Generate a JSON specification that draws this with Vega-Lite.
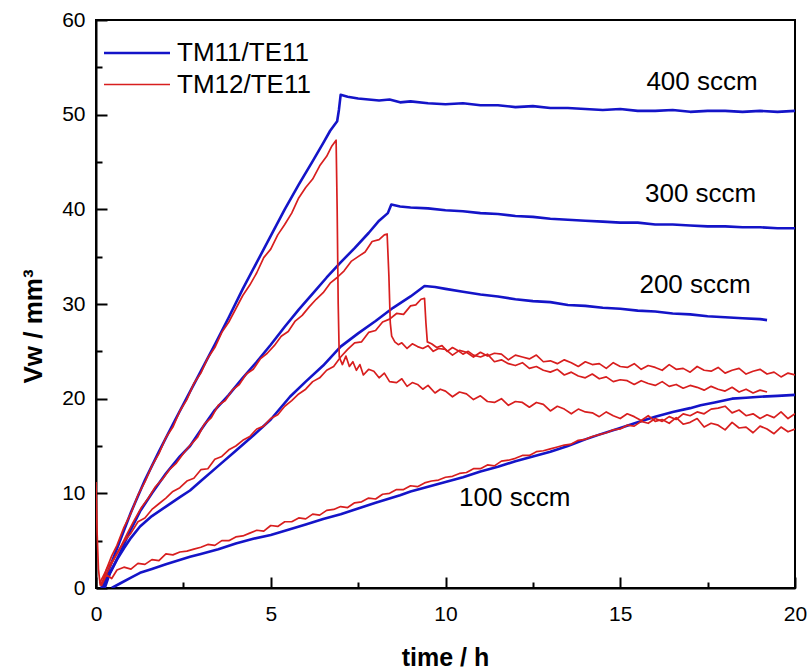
{
"$schema": "https://vega.github.io/schema/vega-lite/v6.json",
"width": 699, "height": 568,
"autosize": {"type": "none"},
"padding": {"left": 96, "top": 20, "right": 16, "bottom": 84},
"background": "white",
"config": {
  "font": "Liberation Sans",
  "view": {"stroke": "black", "strokeWidth": 2},
  "axis": {"domainColor": "black", "domainWidth": 2, "tickColor": "black", "tickWidth": 2, "labelColor": "black", "labelFontSize": 21, "labelFont": "Liberation Sans", "titleColor": "black", "titleFont": "Liberation Sans", "grid": false, "labelOverlap": false, "labelFlush": false}
},
"datasets": {
  "labels": [
    {"t": 17.34, "v": 53.46, "txt": "400 sccm"},
    {"t": 17.30, "v": 41.6, "txt": "300 sccm"},
    {"t": 17.14, "v": 32.0, "txt": "200 sccm"},
    {"t": 11.98, "v": 9.47, "txt": "100 sccm"}
  ],
  "curves": [
{"m":"TM11/TE11","r":400,"t":0.15,"v":0},{"m":"TM11/TE11","r":400,"t":0.3,"v":1.3},{"m":"TM11/TE11","r":400,"t":0.5,"v":3.2},{"m":"TM11/TE11","r":400,"t":0.75,"v":5.6},{"m":"TM11/TE11","r":400,"t":1,"v":8},{"m":"TM11/TE11","r":400,"t":1.4,"v":11.4},{"m":"TM11/TE11","r":400,"t":1.8,"v":14.4},{"m":"TM11/TE11","r":400,"t":2.2,"v":17.3},{"m":"TM11/TE11","r":400,"t":2.6,"v":20.1},{"m":"TM11/TE11","r":400,"t":3,"v":22.9},{"m":"TM11/TE11","r":400,"t":3.4,"v":25.7},{"m":"TM11/TE11","r":400,"t":3.8,"v":28.6},{"m":"TM11/TE11","r":400,"t":4.2,"v":31.6},{"m":"TM11/TE11","r":400,"t":4.6,"v":34.4},{"m":"TM11/TE11","r":400,"t":5,"v":37.2},{"m":"TM11/TE11","r":400,"t":5.4,"v":40},{"m":"TM11/TE11","r":400,"t":5.8,"v":42.6},{"m":"TM11/TE11","r":400,"t":6.2,"v":45.1},{"m":"TM11/TE11","r":400,"t":6.5,"v":47},{"m":"TM11/TE11","r":400,"t":6.7,"v":48.3},{"m":"TM11/TE11","r":400,"t":6.9,"v":49.3},{"m":"TM11/TE11","r":400,"t":6.95,"v":50.5},{"m":"TM11/TE11","r":400,"t":7,"v":52.1},{"m":"TM11/TE11","r":400,"t":7.2,"v":51.9},{"m":"TM11/TE11","r":400,"t":7.5,"v":51.7},{"m":"TM11/TE11","r":400,"t":7.8,"v":51.6},{"m":"TM11/TE11","r":400,"t":8.1,"v":51.5},{"m":"TM11/TE11","r":400,"t":8.4,"v":51.6},{"m":"TM11/TE11","r":400,"t":8.7,"v":51.3},{"m":"TM11/TE11","r":400,"t":9,"v":51.4},{"m":"TM11/TE11","r":400,"t":9.5,"v":51.2},{"m":"TM11/TE11","r":400,"t":10,"v":51.1},{"m":"TM11/TE11","r":400,"t":10.5,"v":51.2},{"m":"TM11/TE11","r":400,"t":11,"v":51},{"m":"TM11/TE11","r":400,"t":11.5,"v":51},{"m":"TM11/TE11","r":400,"t":12,"v":50.8},{"m":"TM11/TE11","r":400,"t":12.5,"v":50.9},{"m":"TM11/TE11","r":400,"t":13,"v":50.7},{"m":"TM11/TE11","r":400,"t":13.5,"v":50.7},{"m":"TM11/TE11","r":400,"t":14,"v":50.6},{"m":"TM11/TE11","r":400,"t":14.5,"v":50.5},{"m":"TM11/TE11","r":400,"t":15,"v":50.6},{"m":"TM11/TE11","r":400,"t":15.5,"v":50.4},{"m":"TM11/TE11","r":400,"t":16,"v":50.4},{"m":"TM11/TE11","r":400,"t":16.5,"v":50.5},{"m":"TM11/TE11","r":400,"t":17,"v":50.3},{"m":"TM11/TE11","r":400,"t":17.5,"v":50.4},{"m":"TM11/TE11","r":400,"t":18,"v":50.4},{"m":"TM11/TE11","r":400,"t":18.5,"v":50.3},{"m":"TM11/TE11","r":400,"t":19,"v":50.4},{"m":"TM11/TE11","r":400,"t":19.5,"v":50.3},{"m":"TM11/TE11","r":400,"t":20,"v":50.4},

{"m":"TM11/TE11","r":300,"t":0.2,"v":0},{"m":"TM11/TE11","r":300,"t":0.35,"v":1.2},{"m":"TM11/TE11","r":300,"t":0.5,"v":2.3},{"m":"TM11/TE11","r":300,"t":0.75,"v":4.2},{"m":"TM11/TE11","r":300,"t":1,"v":6.2},{"m":"TM11/TE11","r":300,"t":1.26,"v":8.1},{"m":"TM11/TE11","r":300,"t":1.6,"v":10},{"m":"TM11/TE11","r":300,"t":2,"v":12.1},{"m":"TM11/TE11","r":300,"t":2.4,"v":13.9},{"m":"TM11/TE11","r":300,"t":2.69,"v":15},{"m":"TM11/TE11","r":300,"t":3,"v":16.7},{"m":"TM11/TE11","r":300,"t":3.4,"v":18.8},{"m":"TM11/TE11","r":300,"t":3.8,"v":20.4},{"m":"TM11/TE11","r":300,"t":4.2,"v":22.2},{"m":"TM11/TE11","r":300,"t":4.6,"v":23.9},{"m":"TM11/TE11","r":300,"t":5,"v":25.7},{"m":"TM11/TE11","r":300,"t":5.4,"v":27.6},{"m":"TM11/TE11","r":300,"t":5.8,"v":29.4},{"m":"TM11/TE11","r":300,"t":6.2,"v":31.1},{"m":"TM11/TE11","r":300,"t":6.6,"v":32.8},{"m":"TM11/TE11","r":300,"t":7,"v":34.4},{"m":"TM11/TE11","r":300,"t":7.4,"v":35.9},{"m":"TM11/TE11","r":300,"t":7.8,"v":37.5},{"m":"TM11/TE11","r":300,"t":8.1,"v":38.8},{"m":"TM11/TE11","r":300,"t":8.35,"v":39.6},{"m":"TM11/TE11","r":300,"t":8.45,"v":40.5},{"m":"TM11/TE11","r":300,"t":8.7,"v":40.3},{"m":"TM11/TE11","r":300,"t":9,"v":40.2},{"m":"TM11/TE11","r":300,"t":9.5,"v":40.1},{"m":"TM11/TE11","r":300,"t":10,"v":39.9},{"m":"TM11/TE11","r":300,"t":10.5,"v":39.8},{"m":"TM11/TE11","r":300,"t":11,"v":39.6},{"m":"TM11/TE11","r":300,"t":11.5,"v":39.5},{"m":"TM11/TE11","r":300,"t":12,"v":39.3},{"m":"TM11/TE11","r":300,"t":12.5,"v":39.2},{"m":"TM11/TE11","r":300,"t":13,"v":39},{"m":"TM11/TE11","r":300,"t":13.5,"v":38.9},{"m":"TM11/TE11","r":300,"t":14,"v":38.8},{"m":"TM11/TE11","r":300,"t":14.5,"v":38.7},{"m":"TM11/TE11","r":300,"t":15,"v":38.6},{"m":"TM11/TE11","r":300,"t":15.5,"v":38.6},{"m":"TM11/TE11","r":300,"t":16,"v":38.4},{"m":"TM11/TE11","r":300,"t":16.5,"v":38.4},{"m":"TM11/TE11","r":300,"t":17,"v":38.3},{"m":"TM11/TE11","r":300,"t":17.5,"v":38.2},{"m":"TM11/TE11","r":300,"t":18,"v":38.2},{"m":"TM11/TE11","r":300,"t":18.5,"v":38.1},{"m":"TM11/TE11","r":300,"t":19,"v":38.1},{"m":"TM11/TE11","r":300,"t":19.5,"v":38},{"m":"TM11/TE11","r":300,"t":20,"v":38},

{"m":"TM11/TE11","r":200,"t":0.25,"v":0},{"m":"TM11/TE11","r":200,"t":0.4,"v":1.6},{"m":"TM11/TE11","r":200,"t":0.6,"v":3},{"m":"TM11/TE11","r":200,"t":0.8,"v":4.2},{"m":"TM11/TE11","r":200,"t":1,"v":5.3},{"m":"TM11/TE11","r":200,"t":1.26,"v":6.5},{"m":"TM11/TE11","r":200,"t":1.6,"v":7.6},{"m":"TM11/TE11","r":200,"t":2,"v":8.6},{"m":"TM11/TE11","r":200,"t":2.4,"v":9.6},{"m":"TM11/TE11","r":200,"t":2.69,"v":10.3},{"m":"TM11/TE11","r":200,"t":3,"v":11.3},{"m":"TM11/TE11","r":200,"t":3.5,"v":12.9},{"m":"TM11/TE11","r":200,"t":4,"v":14.5},{"m":"TM11/TE11","r":200,"t":4.5,"v":16.1},{"m":"TM11/TE11","r":200,"t":5,"v":17.8},{"m":"TM11/TE11","r":200,"t":5.55,"v":20.2},{"m":"TM11/TE11","r":200,"t":6,"v":21.8},{"m":"TM11/TE11","r":200,"t":6.5,"v":23.5},{"m":"TM11/TE11","r":200,"t":7,"v":25.5},{"m":"TM11/TE11","r":200,"t":7.5,"v":26.9},{"m":"TM11/TE11","r":200,"t":8,"v":28.2},{"m":"TM11/TE11","r":200,"t":8.5,"v":29.6},{"m":"TM11/TE11","r":200,"t":9,"v":30.8},{"m":"TM11/TE11","r":200,"t":9.4,"v":31.9},{"m":"TM11/TE11","r":200,"t":9.7,"v":31.8},{"m":"TM11/TE11","r":200,"t":10,"v":31.6},{"m":"TM11/TE11","r":200,"t":10.5,"v":31.3},{"m":"TM11/TE11","r":200,"t":11,"v":31},{"m":"TM11/TE11","r":200,"t":11.5,"v":30.8},{"m":"TM11/TE11","r":200,"t":12,"v":30.5},{"m":"TM11/TE11","r":200,"t":12.5,"v":30.3},{"m":"TM11/TE11","r":200,"t":13,"v":30.2},{"m":"TM11/TE11","r":200,"t":13.5,"v":29.9},{"m":"TM11/TE11","r":200,"t":14,"v":29.8},{"m":"TM11/TE11","r":200,"t":14.5,"v":29.6},{"m":"TM11/TE11","r":200,"t":15,"v":29.5},{"m":"TM11/TE11","r":200,"t":15.5,"v":29.3},{"m":"TM11/TE11","r":200,"t":16,"v":29.2},{"m":"TM11/TE11","r":200,"t":16.5,"v":29},{"m":"TM11/TE11","r":200,"t":17,"v":28.9},{"m":"TM11/TE11","r":200,"t":17.5,"v":28.7},{"m":"TM11/TE11","r":200,"t":18,"v":28.6},{"m":"TM11/TE11","r":200,"t":18.5,"v":28.5},{"m":"TM11/TE11","r":200,"t":19,"v":28.4},{"m":"TM11/TE11","r":200,"t":19.2,"v":28.3},

{"m":"TM11/TE11","r":100,"t":0.45,"v":0},{"m":"TM11/TE11","r":100,"t":0.7,"v":0.5},{"m":"TM11/TE11","r":100,"t":1,"v":1.1},{"m":"TM11/TE11","r":100,"t":1.26,"v":1.6},{"m":"TM11/TE11","r":100,"t":1.6,"v":2},{"m":"TM11/TE11","r":100,"t":2,"v":2.5},{"m":"TM11/TE11","r":100,"t":2.69,"v":3.3},{"m":"TM11/TE11","r":100,"t":3,"v":3.6},{"m":"TM11/TE11","r":100,"t":3.5,"v":4.1},{"m":"TM11/TE11","r":100,"t":4,"v":4.7},{"m":"TM11/TE11","r":100,"t":4.5,"v":5.2},{"m":"TM11/TE11","r":100,"t":5,"v":5.6},{"m":"TM11/TE11","r":100,"t":5.55,"v":6.2},{"m":"TM11/TE11","r":100,"t":6,"v":6.7},{"m":"TM11/TE11","r":100,"t":6.5,"v":7.3},{"m":"TM11/TE11","r":100,"t":7,"v":7.8},{"m":"TM11/TE11","r":100,"t":7.5,"v":8.4},{"m":"TM11/TE11","r":100,"t":8,"v":9},{"m":"TM11/TE11","r":100,"t":8.7,"v":9.8},{"m":"TM11/TE11","r":100,"t":9,"v":10.2},{"m":"TM11/TE11","r":100,"t":9.5,"v":10.7},{"m":"TM11/TE11","r":100,"t":10,"v":11.2},{"m":"TM11/TE11","r":100,"t":10.5,"v":11.7},{"m":"TM11/TE11","r":100,"t":11,"v":12.3},{"m":"TM11/TE11","r":100,"t":11.5,"v":12.8},{"m":"TM11/TE11","r":100,"t":12,"v":13.4},{"m":"TM11/TE11","r":100,"t":12.5,"v":13.9},{"m":"TM11/TE11","r":100,"t":13,"v":14.4},{"m":"TM11/TE11","r":100,"t":13.5,"v":15},{"m":"TM11/TE11","r":100,"t":14,"v":15.7},{"m":"TM11/TE11","r":100,"t":14.4,"v":16.2},{"m":"TM11/TE11","r":100,"t":15,"v":16.9},{"m":"TM11/TE11","r":100,"t":15.5,"v":17.5},{"m":"TM11/TE11","r":100,"t":16,"v":18.1},{"m":"TM11/TE11","r":100,"t":16.5,"v":18.6},{"m":"TM11/TE11","r":100,"t":17,"v":19},{"m":"TM11/TE11","r":100,"t":17.3,"v":19.3},{"m":"TM11/TE11","r":100,"t":17.7,"v":19.6},{"m":"TM11/TE11","r":100,"t":18.2,"v":20},{"m":"TM11/TE11","r":100,"t":18.6,"v":20.1},{"m":"TM11/TE11","r":100,"t":19,"v":20.2},{"m":"TM11/TE11","r":100,"t":19.5,"v":20.3},{"m":"TM11/TE11","r":100,"t":20,"v":20.4},

{"m":"TM12/TE11","r":400,"t":0,"v":11.2},{"m":"TM12/TE11","r":400,"t":0.03,"v":6},{"m":"TM12/TE11","r":400,"t":0.07,"v":2},{"m":"TM12/TE11","r":400,"t":0.12,"v":0.3},{"m":"TM12/TE11","r":400,"t":0.2,"v":0.8},{"m":"TM12/TE11","r":400,"t":0.3,"v":2},{"m":"TM12/TE11","r":400,"t":0.45,"v":3.4},{"m":"TM12/TE11","r":400,"t":0.6,"v":4.5},{"m":"TM12/TE11","r":400,"t":0.8,"v":6.4},{"m":"TM12/TE11","r":400,"t":1,"v":7.9},{"m":"TM12/TE11","r":400,"t":1.2,"v":9.8},{"m":"TM12/TE11","r":400,"t":1.4,"v":11.2},{"m":"TM12/TE11","r":400,"t":1.6,"v":12.9},{"m":"TM12/TE11","r":400,"t":1.8,"v":14.2},{"m":"TM12/TE11","r":400,"t":2,"v":15.9},{"m":"TM12/TE11","r":400,"t":2.2,"v":17},{"m":"TM12/TE11","r":400,"t":2.4,"v":18.7},{"m":"TM12/TE11","r":400,"t":2.6,"v":19.9},{"m":"TM12/TE11","r":400,"t":2.8,"v":21.6},{"m":"TM12/TE11","r":400,"t":3,"v":22.7},{"m":"TM12/TE11","r":400,"t":3.2,"v":24.3},{"m":"TM12/TE11","r":400,"t":3.4,"v":25.4},{"m":"TM12/TE11","r":400,"t":3.6,"v":27},{"m":"TM12/TE11","r":400,"t":3.8,"v":28.1},{"m":"TM12/TE11","r":400,"t":4,"v":29.5},{"m":"TM12/TE11","r":400,"t":4.2,"v":30.9},{"m":"TM12/TE11","r":400,"t":4.4,"v":32},{"m":"TM12/TE11","r":400,"t":4.6,"v":33.3},{"m":"TM12/TE11","r":400,"t":4.8,"v":34.9},{"m":"TM12/TE11","r":400,"t":5,"v":35.8},{"m":"TM12/TE11","r":400,"t":5.2,"v":37.3},{"m":"TM12/TE11","r":400,"t":5.4,"v":38.4},{"m":"TM12/TE11","r":400,"t":5.6,"v":39.6},{"m":"TM12/TE11","r":400,"t":5.8,"v":41.2},{"m":"TM12/TE11","r":400,"t":6,"v":42.3},{"m":"TM12/TE11","r":400,"t":6.2,"v":43.2},{"m":"TM12/TE11","r":400,"t":6.4,"v":44.6},{"m":"TM12/TE11","r":400,"t":6.6,"v":45.6},{"m":"TM12/TE11","r":400,"t":6.75,"v":46.7},{"m":"TM12/TE11","r":400,"t":6.87,"v":47.3},{"m":"TM12/TE11","r":400,"t":6.9,"v":40},{"m":"TM12/TE11","r":400,"t":6.93,"v":30},{"m":"TM12/TE11","r":400,"t":6.96,"v":24.4},{"m":"TM12/TE11","r":400,"t":7.05,"v":23.6},{"m":"TM12/TE11","r":400,"t":7.15,"v":24.5},{"m":"TM12/TE11","r":400,"t":7.25,"v":23.4},{"m":"TM12/TE11","r":400,"t":7.35,"v":23.9},{"m":"TM12/TE11","r":400,"t":7.45,"v":23},{"m":"TM12/TE11","r":400,"t":7.55,"v":23.6},{"m":"TM12/TE11","r":400,"t":7.65,"v":22.5},{"m":"TM12/TE11","r":400,"t":7.8,"v":23.1},{"m":"TM12/TE11","r":400,"t":7.95,"v":22.9},{"m":"TM12/TE11","r":400,"t":8.1,"v":22.2},{"m":"TM12/TE11","r":400,"t":8.25,"v":22.7},{"m":"TM12/TE11","r":400,"t":8.4,"v":21.8},{"m":"TM12/TE11","r":400,"t":8.6,"v":21.7},{"m":"TM12/TE11","r":400,"t":8.75,"v":22.1},{"m":"TM12/TE11","r":400,"t":8.9,"v":21.3},{"m":"TM12/TE11","r":400,"t":9.05,"v":21.7},{"m":"TM12/TE11","r":400,"t":9.2,"v":21.5},{"m":"TM12/TE11","r":400,"t":9.35,"v":21},{"m":"TM12/TE11","r":400,"t":9.5,"v":21.4},{"m":"TM12/TE11","r":400,"t":9.7,"v":20.6},{"m":"TM12/TE11","r":400,"t":9.85,"v":21},{"m":"TM12/TE11","r":400,"t":10,"v":20.8},{"m":"TM12/TE11","r":400,"t":10.2,"v":20.2},{"m":"TM12/TE11","r":400,"t":10.4,"v":20.7},{"m":"TM12/TE11","r":400,"t":10.6,"v":20.5},{"m":"TM12/TE11","r":400,"t":10.8,"v":19.9},{"m":"TM12/TE11","r":400,"t":11,"v":20.3},{"m":"TM12/TE11","r":400,"t":11.2,"v":19.7},{"m":"TM12/TE11","r":400,"t":11.4,"v":19.6},{"m":"TM12/TE11","r":400,"t":11.6,"v":20},{"m":"TM12/TE11","r":400,"t":11.8,"v":19.3},{"m":"TM12/TE11","r":400,"t":12,"v":19.7},{"m":"TM12/TE11","r":400,"t":12.2,"v":19.6},{"m":"TM12/TE11","r":400,"t":12.4,"v":19.1},{"m":"TM12/TE11","r":400,"t":12.6,"v":19.6},{"m":"TM12/TE11","r":400,"t":12.8,"v":19.4},{"m":"TM12/TE11","r":400,"t":13,"v":18.7},{"m":"TM12/TE11","r":400,"t":13.2,"v":19.2},{"m":"TM12/TE11","r":400,"t":13.4,"v":18.9},{"m":"TM12/TE11","r":400,"t":13.6,"v":18.4},{"m":"TM12/TE11","r":400,"t":13.8,"v":18.9},{"m":"TM12/TE11","r":400,"t":14,"v":18.6},{"m":"TM12/TE11","r":400,"t":14.2,"v":18.5},{"m":"TM12/TE11","r":400,"t":14.4,"v":18.1},{"m":"TM12/TE11","r":400,"t":14.6,"v":18.6},{"m":"TM12/TE11","r":400,"t":14.8,"v":18.2},{"m":"TM12/TE11","r":400,"t":15,"v":17.9},{"m":"TM12/TE11","r":400,"t":15.2,"v":18.4},{"m":"TM12/TE11","r":400,"t":15.4,"v":18.1},{"m":"TM12/TE11","r":400,"t":15.6,"v":17.7},{"m":"TM12/TE11","r":400,"t":15.8,"v":18.2},{"m":"TM12/TE11","r":400,"t":16,"v":17.6},{"m":"TM12/TE11","r":400,"t":16.2,"v":17.8},{"m":"TM12/TE11","r":400,"t":16.4,"v":17.4},{"m":"TM12/TE11","r":400,"t":16.6,"v":18},{"m":"TM12/TE11","r":400,"t":16.8,"v":17.3},{"m":"TM12/TE11","r":400,"t":17,"v":17.5},{"m":"TM12/TE11","r":400,"t":17.2,"v":17.9},{"m":"TM12/TE11","r":400,"t":17.4,"v":17},{"m":"TM12/TE11","r":400,"t":17.6,"v":17.4},{"m":"TM12/TE11","r":400,"t":17.8,"v":17.2},{"m":"TM12/TE11","r":400,"t":18,"v":16.7},{"m":"TM12/TE11","r":400,"t":18.2,"v":17.5},{"m":"TM12/TE11","r":400,"t":18.4,"v":16.9},{"m":"TM12/TE11","r":400,"t":18.6,"v":17},{"m":"TM12/TE11","r":400,"t":18.8,"v":16.4},{"m":"TM12/TE11","r":400,"t":19,"v":17.1},{"m":"TM12/TE11","r":400,"t":19.2,"v":16.8},{"m":"TM12/TE11","r":400,"t":19.4,"v":16.3},{"m":"TM12/TE11","r":400,"t":19.6,"v":17},{"m":"TM12/TE11","r":400,"t":19.8,"v":16.5},{"m":"TM12/TE11","r":400,"t":20,"v":16.8},

{"m":"TM12/TE11","r":300,"t":0.1,"v":0.5},{"m":"TM12/TE11","r":300,"t":0.2,"v":1.2},{"m":"TM12/TE11","r":300,"t":0.35,"v":2.3},{"m":"TM12/TE11","r":300,"t":0.5,"v":3},{"m":"TM12/TE11","r":300,"t":0.7,"v":4.3},{"m":"TM12/TE11","r":300,"t":0.9,"v":5.8},{"m":"TM12/TE11","r":300,"t":1.1,"v":7.2},{"m":"TM12/TE11","r":300,"t":1.3,"v":8.5},{"m":"TM12/TE11","r":300,"t":1.5,"v":9.5},{"m":"TM12/TE11","r":300,"t":1.7,"v":10.7},{"m":"TM12/TE11","r":300,"t":1.9,"v":11.5},{"m":"TM12/TE11","r":300,"t":2.1,"v":12.5},{"m":"TM12/TE11","r":300,"t":2.3,"v":13.2},{"m":"TM12/TE11","r":300,"t":2.5,"v":14.2},{"m":"TM12/TE11","r":300,"t":2.7,"v":15.1},{"m":"TM12/TE11","r":300,"t":2.9,"v":15.9},{"m":"TM12/TE11","r":300,"t":3.1,"v":17.3},{"m":"TM12/TE11","r":300,"t":3.3,"v":18},{"m":"TM12/TE11","r":300,"t":3.5,"v":19.3},{"m":"TM12/TE11","r":300,"t":3.7,"v":19.8},{"m":"TM12/TE11","r":300,"t":3.9,"v":20.9},{"m":"TM12/TE11","r":300,"t":4.1,"v":21.5},{"m":"TM12/TE11","r":300,"t":4.3,"v":22.6},{"m":"TM12/TE11","r":300,"t":4.5,"v":23.1},{"m":"TM12/TE11","r":300,"t":4.7,"v":24.2},{"m":"TM12/TE11","r":300,"t":4.9,"v":24.8},{"m":"TM12/TE11","r":300,"t":5.1,"v":25.6},{"m":"TM12/TE11","r":300,"t":5.3,"v":26.6},{"m":"TM12/TE11","r":300,"t":5.5,"v":27.1},{"m":"TM12/TE11","r":300,"t":5.7,"v":28.2},{"m":"TM12/TE11","r":300,"t":5.9,"v":28.8},{"m":"TM12/TE11","r":300,"t":6.1,"v":29.7},{"m":"TM12/TE11","r":300,"t":6.3,"v":30.5},{"m":"TM12/TE11","r":300,"t":6.5,"v":31.2},{"m":"TM12/TE11","r":300,"t":6.7,"v":32.2},{"m":"TM12/TE11","r":300,"t":6.9,"v":32.8},{"m":"TM12/TE11","r":300,"t":7.1,"v":33.5},{"m":"TM12/TE11","r":300,"t":7.3,"v":34.5},{"m":"TM12/TE11","r":300,"t":7.5,"v":35},{"m":"TM12/TE11","r":300,"t":7.7,"v":35.5},{"m":"TM12/TE11","r":300,"t":7.9,"v":36.6},{"m":"TM12/TE11","r":300,"t":8.1,"v":36.8},{"m":"TM12/TE11","r":300,"t":8.25,"v":37.3},{"m":"TM12/TE11","r":300,"t":8.33,"v":37.4},{"m":"TM12/TE11","r":300,"t":8.38,"v":33},{"m":"TM12/TE11","r":300,"t":8.42,"v":28},{"m":"TM12/TE11","r":300,"t":8.46,"v":26.6},{"m":"TM12/TE11","r":300,"t":8.55,"v":26},{"m":"TM12/TE11","r":300,"t":8.65,"v":25.7},{"m":"TM12/TE11","r":300,"t":8.75,"v":25.9},{"m":"TM12/TE11","r":300,"t":8.9,"v":25.3},{"m":"TM12/TE11","r":300,"t":9.05,"v":25.8},{"m":"TM12/TE11","r":300,"t":9.2,"v":25.5},{"m":"TM12/TE11","r":300,"t":9.35,"v":25.3},{"m":"TM12/TE11","r":300,"t":9.5,"v":25.6},{"m":"TM12/TE11","r":300,"t":9.65,"v":25},{"m":"TM12/TE11","r":300,"t":9.8,"v":25.3},{"m":"TM12/TE11","r":300,"t":10,"v":25.2},{"m":"TM12/TE11","r":300,"t":10.2,"v":24.6},{"m":"TM12/TE11","r":300,"t":10.4,"v":25.1},{"m":"TM12/TE11","r":300,"t":10.6,"v":24.9},{"m":"TM12/TE11","r":300,"t":10.8,"v":24.4},{"m":"TM12/TE11","r":300,"t":11,"v":24.9},{"m":"TM12/TE11","r":300,"t":11.2,"v":24.5},{"m":"TM12/TE11","r":300,"t":11.4,"v":24.8},{"m":"TM12/TE11","r":300,"t":11.6,"v":24.7},{"m":"TM12/TE11","r":300,"t":11.8,"v":24.1},{"m":"TM12/TE11","r":300,"t":12,"v":24.6},{"m":"TM12/TE11","r":300,"t":12.2,"v":24.4},{"m":"TM12/TE11","r":300,"t":12.4,"v":24.2},{"m":"TM12/TE11","r":300,"t":12.6,"v":24.6},{"m":"TM12/TE11","r":300,"t":12.8,"v":23.9},{"m":"TM12/TE11","r":300,"t":13,"v":24},{"m":"TM12/TE11","r":300,"t":13.2,"v":23.7},{"m":"TM12/TE11","r":300,"t":13.4,"v":24.1},{"m":"TM12/TE11","r":300,"t":13.6,"v":23.8},{"m":"TM12/TE11","r":300,"t":13.8,"v":23.4},{"m":"TM12/TE11","r":300,"t":14,"v":23.9},{"m":"TM12/TE11","r":300,"t":14.2,"v":23.6},{"m":"TM12/TE11","r":300,"t":14.4,"v":23.7},{"m":"TM12/TE11","r":300,"t":14.6,"v":23.2},{"m":"TM12/TE11","r":300,"t":14.8,"v":23.8},{"m":"TM12/TE11","r":300,"t":15,"v":23.4},{"m":"TM12/TE11","r":300,"t":15.2,"v":23.3},{"m":"TM12/TE11","r":300,"t":15.4,"v":23.7},{"m":"TM12/TE11","r":300,"t":15.6,"v":23.1},{"m":"TM12/TE11","r":300,"t":15.8,"v":23.5},{"m":"TM12/TE11","r":300,"t":16,"v":23.3},{"m":"TM12/TE11","r":300,"t":16.2,"v":23},{"m":"TM12/TE11","r":300,"t":16.4,"v":23.6},{"m":"TM12/TE11","r":300,"t":16.6,"v":23.1},{"m":"TM12/TE11","r":300,"t":16.8,"v":23.2},{"m":"TM12/TE11","r":300,"t":17,"v":22.8},{"m":"TM12/TE11","r":300,"t":17.2,"v":23.4},{"m":"TM12/TE11","r":300,"t":17.4,"v":23},{"m":"TM12/TE11","r":300,"t":17.6,"v":22.9},{"m":"TM12/TE11","r":300,"t":17.8,"v":23.3},{"m":"TM12/TE11","r":300,"t":18,"v":22.7},{"m":"TM12/TE11","r":300,"t":18.2,"v":23},{"m":"TM12/TE11","r":300,"t":18.4,"v":23.2},{"m":"TM12/TE11","r":300,"t":18.6,"v":22.6},{"m":"TM12/TE11","r":300,"t":18.8,"v":22.9},{"m":"TM12/TE11","r":300,"t":19,"v":23.1},{"m":"TM12/TE11","r":300,"t":19.2,"v":22.6},{"m":"TM12/TE11","r":300,"t":19.4,"v":22.8},{"m":"TM12/TE11","r":300,"t":19.6,"v":22.3},{"m":"TM12/TE11","r":300,"t":19.8,"v":22.7},{"m":"TM12/TE11","r":300,"t":20,"v":22.5},

{"m":"TM12/TE11","r":200,"t":0.15,"v":0.4},{"m":"TM12/TE11","r":200,"t":0.3,"v":1.5},{"m":"TM12/TE11","r":200,"t":0.45,"v":2.6},{"m":"TM12/TE11","r":200,"t":0.6,"v":3.6},{"m":"TM12/TE11","r":200,"t":0.8,"v":4.9},{"m":"TM12/TE11","r":200,"t":1,"v":5.8},{"m":"TM12/TE11","r":200,"t":1.2,"v":7},{"m":"TM12/TE11","r":200,"t":1.4,"v":7.4},{"m":"TM12/TE11","r":200,"t":1.6,"v":8.3},{"m":"TM12/TE11","r":200,"t":1.8,"v":8.9},{"m":"TM12/TE11","r":200,"t":2,"v":9.5},{"m":"TM12/TE11","r":200,"t":2.2,"v":10.2},{"m":"TM12/TE11","r":200,"t":2.4,"v":10.6},{"m":"TM12/TE11","r":200,"t":2.6,"v":11.3},{"m":"TM12/TE11","r":200,"t":2.8,"v":11.6},{"m":"TM12/TE11","r":200,"t":3,"v":12.5},{"m":"TM12/TE11","r":200,"t":3.2,"v":12.6},{"m":"TM12/TE11","r":200,"t":3.4,"v":13.6},{"m":"TM12/TE11","r":200,"t":3.6,"v":13.9},{"m":"TM12/TE11","r":200,"t":3.8,"v":14.6},{"m":"TM12/TE11","r":200,"t":4,"v":15},{"m":"TM12/TE11","r":200,"t":4.2,"v":15.6},{"m":"TM12/TE11","r":200,"t":4.4,"v":16},{"m":"TM12/TE11","r":200,"t":4.6,"v":16.8},{"m":"TM12/TE11","r":200,"t":4.8,"v":17.1},{"m":"TM12/TE11","r":200,"t":5,"v":17.9},{"m":"TM12/TE11","r":200,"t":5.2,"v":18.3},{"m":"TM12/TE11","r":200,"t":5.4,"v":19.2},{"m":"TM12/TE11","r":200,"t":5.6,"v":19.8},{"m":"TM12/TE11","r":200,"t":5.8,"v":20.5},{"m":"TM12/TE11","r":200,"t":6,"v":21},{"m":"TM12/TE11","r":200,"t":6.2,"v":21.8},{"m":"TM12/TE11","r":200,"t":6.4,"v":22.2},{"m":"TM12/TE11","r":200,"t":6.6,"v":23},{"m":"TM12/TE11","r":200,"t":6.8,"v":23.4},{"m":"TM12/TE11","r":200,"t":7,"v":24.4},{"m":"TM12/TE11","r":200,"t":7.2,"v":25.2},{"m":"TM12/TE11","r":200,"t":7.4,"v":25.9},{"m":"TM12/TE11","r":200,"t":7.6,"v":26},{"m":"TM12/TE11","r":200,"t":7.8,"v":27},{"m":"TM12/TE11","r":200,"t":8,"v":27.2},{"m":"TM12/TE11","r":200,"t":8.2,"v":28.1},{"m":"TM12/TE11","r":200,"t":8.4,"v":28.4},{"m":"TM12/TE11","r":200,"t":8.6,"v":29},{"m":"TM12/TE11","r":200,"t":8.8,"v":28.9},{"m":"TM12/TE11","r":200,"t":9,"v":29.8},{"m":"TM12/TE11","r":200,"t":9.15,"v":29.9},{"m":"TM12/TE11","r":200,"t":9.3,"v":30.5},{"m":"TM12/TE11","r":200,"t":9.4,"v":30.6},{"m":"TM12/TE11","r":200,"t":9.44,"v":28},{"m":"TM12/TE11","r":200,"t":9.48,"v":26},{"m":"TM12/TE11","r":200,"t":9.6,"v":25.8},{"m":"TM12/TE11","r":200,"t":9.75,"v":25.4},{"m":"TM12/TE11","r":200,"t":9.9,"v":25.6},{"m":"TM12/TE11","r":200,"t":10.05,"v":25},{"m":"TM12/TE11","r":200,"t":10.2,"v":25.4},{"m":"TM12/TE11","r":200,"t":10.35,"v":25.1},{"m":"TM12/TE11","r":200,"t":10.5,"v":24.7},{"m":"TM12/TE11","r":200,"t":10.65,"v":25},{"m":"TM12/TE11","r":200,"t":10.8,"v":24.6},{"m":"TM12/TE11","r":200,"t":11,"v":24.4},{"m":"TM12/TE11","r":200,"t":11.2,"v":24.7},{"m":"TM12/TE11","r":200,"t":11.4,"v":23.9},{"m":"TM12/TE11","r":200,"t":11.6,"v":24.1},{"m":"TM12/TE11","r":200,"t":11.8,"v":23.7},{"m":"TM12/TE11","r":200,"t":12,"v":23.5},{"m":"TM12/TE11","r":200,"t":12.2,"v":23.8},{"m":"TM12/TE11","r":200,"t":12.4,"v":23.2},{"m":"TM12/TE11","r":200,"t":12.6,"v":23.4},{"m":"TM12/TE11","r":200,"t":12.8,"v":23},{"m":"TM12/TE11","r":200,"t":13,"v":22.8},{"m":"TM12/TE11","r":200,"t":13.2,"v":23.1},{"m":"TM12/TE11","r":200,"t":13.4,"v":22.5},{"m":"TM12/TE11","r":200,"t":13.6,"v":22.8},{"m":"TM12/TE11","r":200,"t":13.8,"v":22.4},{"m":"TM12/TE11","r":200,"t":14,"v":22.2},{"m":"TM12/TE11","r":200,"t":14.2,"v":22.6},{"m":"TM12/TE11","r":200,"t":14.4,"v":22.1},{"m":"TM12/TE11","r":200,"t":14.6,"v":22.3},{"m":"TM12/TE11","r":200,"t":14.8,"v":21.8},{"m":"TM12/TE11","r":200,"t":15,"v":22},{"m":"TM12/TE11","r":200,"t":15.2,"v":21.9},{"m":"TM12/TE11","r":200,"t":15.4,"v":21.5},{"m":"TM12/TE11","r":200,"t":15.6,"v":21.9},{"m":"TM12/TE11","r":200,"t":15.8,"v":21.6},{"m":"TM12/TE11","r":200,"t":16,"v":21.4},{"m":"TM12/TE11","r":200,"t":16.2,"v":21.8},{"m":"TM12/TE11","r":200,"t":16.4,"v":21.3},{"m":"TM12/TE11","r":200,"t":16.6,"v":21.5},{"m":"TM12/TE11","r":200,"t":16.8,"v":21.1},{"m":"TM12/TE11","r":200,"t":17,"v":21.4},{"m":"TM12/TE11","r":200,"t":17.2,"v":21.2},{"m":"TM12/TE11","r":200,"t":17.4,"v":20.9},{"m":"TM12/TE11","r":200,"t":17.6,"v":21.3},{"m":"TM12/TE11","r":200,"t":17.8,"v":21},{"m":"TM12/TE11","r":200,"t":18,"v":20.8},{"m":"TM12/TE11","r":200,"t":18.2,"v":21.2},{"m":"TM12/TE11","r":200,"t":18.4,"v":20.7},{"m":"TM12/TE11","r":200,"t":18.6,"v":21},{"m":"TM12/TE11","r":200,"t":18.8,"v":20.6},{"m":"TM12/TE11","r":200,"t":19,"v":20.9},{"m":"TM12/TE11","r":200,"t":19.2,"v":20.7},

{"m":"TM12/TE11","r":100,"t":0.15,"v":0.2},{"m":"TM12/TE11","r":100,"t":0.3,"v":1.4},{"m":"TM12/TE11","r":100,"t":0.45,"v":1},{"m":"TM12/TE11","r":100,"t":0.6,"v":1.9},{"m":"TM12/TE11","r":100,"t":0.8,"v":2.2},{"m":"TM12/TE11","r":100,"t":1,"v":2},{"m":"TM12/TE11","r":100,"t":1.2,"v":2.6},{"m":"TM12/TE11","r":100,"t":1.4,"v":2.5},{"m":"TM12/TE11","r":100,"t":1.6,"v":3},{"m":"TM12/TE11","r":100,"t":1.8,"v":2.9},{"m":"TM12/TE11","r":100,"t":2,"v":3.6},{"m":"TM12/TE11","r":100,"t":2.2,"v":3.5},{"m":"TM12/TE11","r":100,"t":2.4,"v":3.8},{"m":"TM12/TE11","r":100,"t":2.6,"v":3.9},{"m":"TM12/TE11","r":100,"t":2.8,"v":4.1},{"m":"TM12/TE11","r":100,"t":3,"v":4.3},{"m":"TM12/TE11","r":100,"t":3.2,"v":4.6},{"m":"TM12/TE11","r":100,"t":3.4,"v":4.5},{"m":"TM12/TE11","r":100,"t":3.6,"v":5},{"m":"TM12/TE11","r":100,"t":3.8,"v":5},{"m":"TM12/TE11","r":100,"t":4,"v":5.4},{"m":"TM12/TE11","r":100,"t":4.2,"v":5.5},{"m":"TM12/TE11","r":100,"t":4.4,"v":5.8},{"m":"TM12/TE11","r":100,"t":4.6,"v":6.1},{"m":"TM12/TE11","r":100,"t":4.8,"v":6},{"m":"TM12/TE11","r":100,"t":5,"v":6.6},{"m":"TM12/TE11","r":100,"t":5.2,"v":6.5},{"m":"TM12/TE11","r":100,"t":5.4,"v":7},{"m":"TM12/TE11","r":100,"t":5.6,"v":7},{"m":"TM12/TE11","r":100,"t":5.8,"v":7.4},{"m":"TM12/TE11","r":100,"t":6,"v":7.3},{"m":"TM12/TE11","r":100,"t":6.2,"v":7.8},{"m":"TM12/TE11","r":100,"t":6.4,"v":7.7},{"m":"TM12/TE11","r":100,"t":6.6,"v":8.2},{"m":"TM12/TE11","r":100,"t":6.8,"v":8.3},{"m":"TM12/TE11","r":100,"t":7,"v":8.6},{"m":"TM12/TE11","r":100,"t":7.2,"v":8.5},{"m":"TM12/TE11","r":100,"t":7.4,"v":9},{"m":"TM12/TE11","r":100,"t":7.6,"v":9.1},{"m":"TM12/TE11","r":100,"t":7.8,"v":9.5},{"m":"TM12/TE11","r":100,"t":8,"v":9.4},{"m":"TM12/TE11","r":100,"t":8.2,"v":9.9},{"m":"TM12/TE11","r":100,"t":8.4,"v":10},{"m":"TM12/TE11","r":100,"t":8.6,"v":10.4},{"m":"TM12/TE11","r":100,"t":8.8,"v":10.4},{"m":"TM12/TE11","r":100,"t":9,"v":10.8},{"m":"TM12/TE11","r":100,"t":9.2,"v":10.7},{"m":"TM12/TE11","r":100,"t":9.4,"v":11.1},{"m":"TM12/TE11","r":100,"t":9.6,"v":11.3},{"m":"TM12/TE11","r":100,"t":9.8,"v":11.4},{"m":"TM12/TE11","r":100,"t":10,"v":11.7},{"m":"TM12/TE11","r":100,"t":10.2,"v":11.8},{"m":"TM12/TE11","r":100,"t":10.4,"v":12.1},{"m":"TM12/TE11","r":100,"t":10.6,"v":12.2},{"m":"TM12/TE11","r":100,"t":10.8,"v":12.6},{"m":"TM12/TE11","r":100,"t":11,"v":12.6},{"m":"TM12/TE11","r":100,"t":11.2,"v":13},{"m":"TM12/TE11","r":100,"t":11.4,"v":12.9},{"m":"TM12/TE11","r":100,"t":11.6,"v":13.4},{"m":"TM12/TE11","r":100,"t":11.8,"v":13.5},{"m":"TM12/TE11","r":100,"t":12,"v":13.7},{"m":"TM12/TE11","r":100,"t":12.2,"v":14},{"m":"TM12/TE11","r":100,"t":12.4,"v":14},{"m":"TM12/TE11","r":100,"t":12.6,"v":14.4},{"m":"TM12/TE11","r":100,"t":12.8,"v":14.5},{"m":"TM12/TE11","r":100,"t":13,"v":14.7},{"m":"TM12/TE11","r":100,"t":13.2,"v":14.9},{"m":"TM12/TE11","r":100,"t":13.4,"v":15.1},{"m":"TM12/TE11","r":100,"t":13.6,"v":15.2},{"m":"TM12/TE11","r":100,"t":13.8,"v":15.6},{"m":"TM12/TE11","r":100,"t":14,"v":15.7},{"m":"TM12/TE11","r":100,"t":14.2,"v":16},{"m":"TM12/TE11","r":100,"t":14.4,"v":16.2},{"m":"TM12/TE11","r":100,"t":14.6,"v":16.4},{"m":"TM12/TE11","r":100,"t":14.8,"v":16.7},{"m":"TM12/TE11","r":100,"t":15,"v":16.8},{"m":"TM12/TE11","r":100,"t":15.2,"v":17.2},{"m":"TM12/TE11","r":100,"t":15.4,"v":17.1},{"m":"TM12/TE11","r":100,"t":15.6,"v":17.6},{"m":"TM12/TE11","r":100,"t":15.8,"v":17.4},{"m":"TM12/TE11","r":100,"t":16,"v":17.9},{"m":"TM12/TE11","r":100,"t":16.2,"v":17.6},{"m":"TM12/TE11","r":100,"t":16.4,"v":18.1},{"m":"TM12/TE11","r":100,"t":16.6,"v":17.8},{"m":"TM12/TE11","r":100,"t":16.8,"v":18.4},{"m":"TM12/TE11","r":100,"t":17,"v":18.2},{"m":"TM12/TE11","r":100,"t":17.2,"v":18.6},{"m":"TM12/TE11","r":100,"t":17.4,"v":18.4},{"m":"TM12/TE11","r":100,"t":17.6,"v":18.9},{"m":"TM12/TE11","r":100,"t":17.8,"v":19},{"m":"TM12/TE11","r":100,"t":18,"v":19.2},{"m":"TM12/TE11","r":100,"t":18.2,"v":18.5},{"m":"TM12/TE11","r":100,"t":18.4,"v":18.8},{"m":"TM12/TE11","r":100,"t":18.6,"v":18.2},{"m":"TM12/TE11","r":100,"t":18.8,"v":18.4},{"m":"TM12/TE11","r":100,"t":19,"v":17.9},{"m":"TM12/TE11","r":100,"t":19.2,"v":18.3},{"m":"TM12/TE11","r":100,"t":19.4,"v":18},{"m":"TM12/TE11","r":100,"t":19.6,"v":18.6},{"m":"TM12/TE11","r":100,"t":19.8,"v":17.9},{"m":"TM12/TE11","r":100,"t":20,"v":18.4}
  ]
},
"encoding": {
  "x": {"field": "t", "type": "quantitative",
    "scale": {"domain": [0, 20], "nice": false, "zero": false},
    "axis": {"values": [0, 2.5, 5, 7.5, 10, 12.5, 15, 17.5, 20],
      "labelExpr": "datum.value % 5 === 0 ? format(datum.value, 'd') : ''",
      "tickSize": {"condition": {"test": "datum.value % 5 === 0", "value": -11}, "value": -6},
      "labelPadding": 26,
      "title": "time / h", "titleFontSize": 25, "titleFontWeight": "bold",
      "titleX": 349, "titleY": 77, "titleBaseline": "alphabetic", "titleAlign": "center"}},
  "y": {"field": "v", "type": "quantitative",
    "scale": {"domain": [0, 60], "nice": false},
    "axis": {"values": [0, 5, 10, 15, 20, 25, 30, 35, 40, 45, 50, 55, 60],
      "labelExpr": "datum.value % 10 === 0 ? format(datum.value, 'd') : ''",
      "tickSize": {"condition": {"test": "datum.value % 10 === 0", "value": -11}, "value": -6},
      "labelPadding": 22,
      "title": "Vw / mm³", "titleFontSize": 26, "titleFontWeight": "bold",
      "titleX": -63, "titleY": 306, "titleBaseline": "middle", "titleAlign": "center"}}
},
"layer": [
  {"data": {"name": "curves"},
   "transform": [{"filter": {"field": "m", "equal": "TM11/TE11"}}],
   "mark": {"type": "line", "strokeJoin": "round", "clip": true},
   "encoding": {
     "detail": {"field": "r"},
     "color": {"field": "m", "type": "nominal", "scale": {"domain": ["TM11/TE11", "TM12/TE11"], "range": ["#1414c8", "#d81e1e"]},
       "legend": {"orient": "none", "legendX": 23, "legendY": 15, "title": null, "labelFontSize": 26, "labelFont": "Liberation Sans", "labelColor": "black", "symbolType": "M-2,0H2", "symbolSize": 1089, "labelOffset": 22, "rowPadding": 1, "padding": 0}},
     "strokeWidth": {"field": "m", "type": "nominal", "scale": {"domain": ["TM11/TE11", "TM12/TE11"], "range": [2.6, 1.7]}, "legend": null}
   }},
  {"data": {"name": "curves"},
   "transform": [{"filter": {"field": "m", "equal": "TM12/TE11"}}],
   "mark": {"type": "line", "strokeJoin": "round", "clip": true},
   "encoding": {
     "detail": {"field": "r"},
     "color": {"field": "m", "type": "nominal"},
     "strokeWidth": {"field": "m", "type": "nominal"}
   }},
  {"data": {"name": "labels"},
   "mark": {"type": "text", "fontSize": 26, "font": "Liberation Sans", "color": "black", "align": "center", "baseline": "middle"},
   "encoding": {"text": {"field": "txt"}}}
]
}
